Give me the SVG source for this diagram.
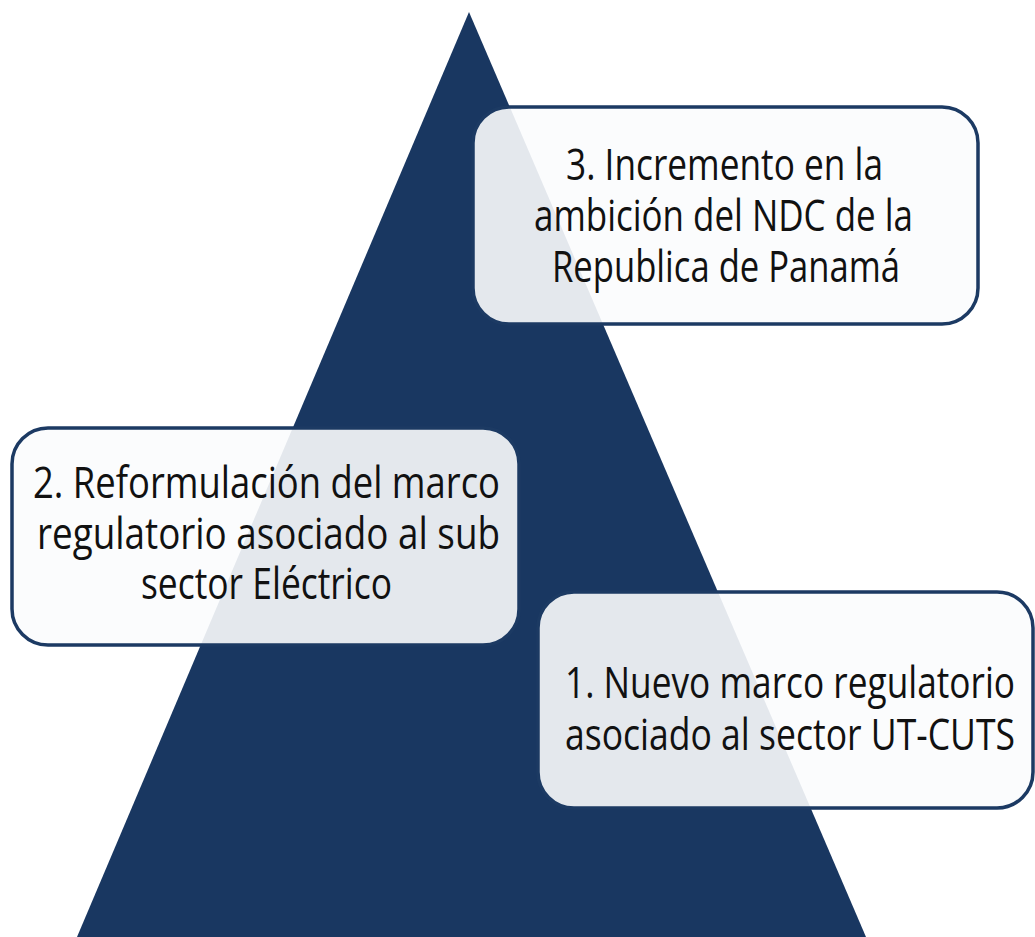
<svg xmlns="http://www.w3.org/2000/svg" width="1035" height="937" viewBox="0 0 1035 937">
<style>
.box{fill:#fbfcfd;fill-opacity:0.9;stroke:#1c3a63;stroke-width:3.5}
.t{font-family:"Open Sans","Noto Sans",sans-serif;font-size:43px;fill:#111;text-anchor:start}
</style>
<rect width="1035" height="937" fill="#ffffff"/>
<g id="pyramid">
<polygon points="469,12 866,937 77,937" fill="#193761"/>
</g>
<g id="connectors"></g>
<g id="node3">
<rect class="box" x="473" y="107" width="505" height="217" rx="36" ry="36"/>
<text class="t" x="566" y="180" textLength="317" lengthAdjust="spacingAndGlyphs">3. Incremento en la</text>
<text class="t" x="534" y="231" textLength="379" lengthAdjust="spacingAndGlyphs">ambición del NDC de la</text>
<text class="t" x="552" y="282" textLength="348" lengthAdjust="spacingAndGlyphs">Republica de Panamá</text>
</g>
<g id="node2">
<rect class="box" x="12" y="428" width="507" height="217" rx="36" ry="36"/>
<text class="t" x="33" y="498" textLength="467" lengthAdjust="spacingAndGlyphs">2. Reformulación del marco</text>
<text class="t" x="37" y="549" textLength="463" lengthAdjust="spacingAndGlyphs">regulatorio asociado al sub</text>
<text class="t" x="141" y="599" textLength="251" lengthAdjust="spacingAndGlyphs">sector Eléctrico</text>
</g>
<g id="node1">
<rect class="box" x="538" y="592" width="495" height="216" rx="36" ry="36"/>
<text class="t" x="565" y="698" textLength="450" lengthAdjust="spacingAndGlyphs">1. Nuevo marco regulatorio</text>
<text class="t" x="565" y="750" textLength="450" lengthAdjust="spacingAndGlyphs">asociado al sector UT-CUTS</text>
</g>
</svg>
